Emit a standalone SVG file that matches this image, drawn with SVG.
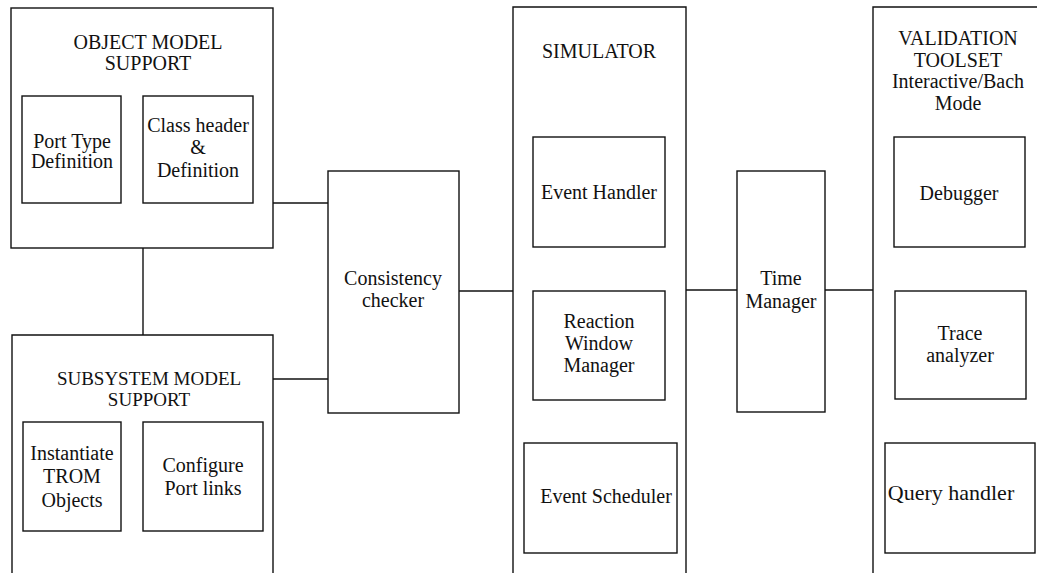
<svg xmlns="http://www.w3.org/2000/svg" width="1037" height="573" viewBox="0 0 1037 573">
  <style>
    .box { fill: none; stroke: #111; stroke-width: 1.4; }
    .link { fill: none; stroke: #111; stroke-width: 1.4; }
    text { font-family: "Liberation Serif", "Times New Roman", serif; font-size: 20px; fill: #111; text-anchor: middle; }
    .sm { font-size: 19px; }
    .lg { font-size: 22px; }
  </style>
  <rect width="1037" height="573" fill="#fff"/>

  <!-- connectors -->
  <g id="connectors">
    <line class="link" x1="143" y1="248" x2="143" y2="335"/>
    <line class="link" x1="273" y1="203" x2="328" y2="203"/>
    <line class="link" x1="273" y1="379" x2="328" y2="379"/>
    <line class="link" x1="459" y1="291" x2="513" y2="291"/>
    <line class="link" x1="686" y1="290" x2="737" y2="290"/>
    <line class="link" x1="825" y1="290" x2="873" y2="290"/>
  </g>

  <!-- object model support -->
  <g id="object-model-support">
    <rect class="box" x="11" y="8" width="262" height="240"/>
    <text x="148" y="49">OBJECT MODEL</text>
    <text x="148" y="70">SUPPORT</text>
    <g id="port-type-definition">
      <rect class="box" x="22" y="96" width="99" height="107"/>
      <text x="72" y="148">Port Type</text>
      <text x="72" y="168">Definition</text>
    </g>
    <g id="class-header-definition">
      <rect class="box" x="143" y="96" width="110" height="107"/>
      <text x="198" y="132">Class header</text>
      <text x="198" y="154">&amp;</text>
      <text x="198" y="177">Definition</text>
    </g>
  </g>

  <!-- subsystem model support -->
  <g id="subsystem-model-support">
    <path class="box" d="M12,575 V335 H273 V575"/>
    <text class="sm" x="149" y="385">SUBSYSTEM MODEL</text>
    <text class="sm" x="149" y="406">SUPPORT</text>
    <g id="instantiate-trom-objects">
      <rect class="box" x="23" y="422" width="98" height="109"/>
      <text x="72" y="460">Instantiate</text>
      <text x="72" y="483">TROM</text>
      <text x="72" y="507">Objects</text>
    </g>
    <g id="configure-port-links">
      <rect class="box" x="143" y="422" width="120" height="109"/>
      <text x="203" y="472">Configure</text>
      <text x="203" y="495">Port links</text>
    </g>
  </g>

  <!-- consistency checker -->
  <g id="consistency-checker">
    <rect class="box" x="328" y="171" width="131" height="242"/>
    <text x="393" y="285">Consistency</text>
    <text x="393" y="307">checker</text>
  </g>

  <!-- simulator -->
  <g id="simulator">
    <path class="box" d="M513,575 V7 H686 V575"/>
    <text x="599" y="58">SIMULATOR</text>
    <g id="event-handler">
      <rect class="box" x="533" y="137" width="132" height="110"/>
      <text x="599" y="199">Event Handler</text>
    </g>
    <g id="reaction-window-manager">
      <rect class="box" x="533" y="291" width="132" height="109"/>
      <text x="599" y="328">Reaction</text>
      <text x="599" y="350">Window</text>
      <text x="599" y="372">Manager</text>
    </g>
    <g id="event-scheduler">
      <rect class="box" x="524" y="443" width="153" height="110"/>
      <text x="606" y="503">Event Scheduler</text>
    </g>
  </g>

  <!-- time manager -->
  <g id="time-manager">
    <rect class="box" x="737" y="171" width="88" height="241"/>
    <text x="781" y="285">Time</text>
    <text x="781" y="308">Manager</text>
  </g>

  <!-- validation toolset -->
  <g id="validation-toolset">
    <path class="box" d="M873,575 V7 H1040"/>
    <text x="958" y="45">VALIDATION</text>
    <text x="958" y="67">TOOLSET</text>
    <text x="958" y="88">Interactive/Bach</text>
    <text x="958" y="110">Mode</text>
    <g id="debugger">
      <rect class="box" x="894" y="137" width="131" height="110"/>
      <text x="959" y="200">Debugger</text>
    </g>
    <g id="trace-analyzer">
      <rect class="box" x="895" y="291" width="131" height="108"/>
      <text x="960" y="340">Trace</text>
      <text x="960" y="362">analyzer</text>
    </g>
    <g id="query-handler">
      <rect class="box" x="885" y="443" width="150" height="110"/>
      <text class="lg" x="951" y="500">Query handler</text>
    </g>
  </g>
</svg>
